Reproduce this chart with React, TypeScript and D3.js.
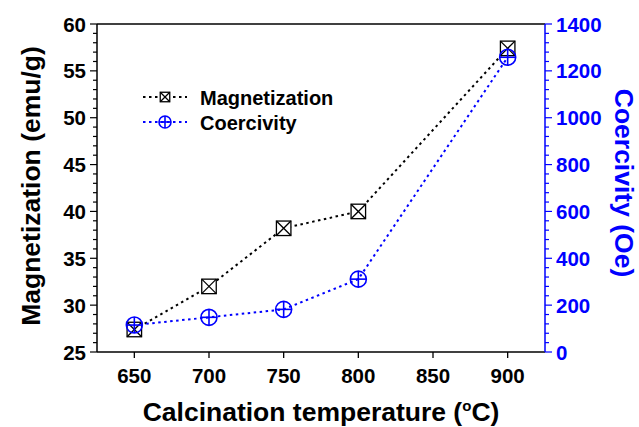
import React from "react";
import * as d3 from "d3";

const temperatures = [650, 700, 750, 800, 900];
const magnetization = [27.4, 32.0, 38.2, 40.0, 57.4];
const coercivity = [115, 148, 182, 311, 1258];
const xTicks = [650, 700, 750, 800, 850, 900];
const leftTicks = [25, 30, 35, 40, 45, 50, 55, 60];
const rightTicks = [0, 200, 400, 600, 800, 1000, 1200, 1400];

const W = 639;
const H = 427;
const M = { left: 97, right: 545, top: 24, bottom: 352 };
const BLUE = "#0000ff";
const FONT = "'Liberation Sans', Arial, sans-serif";
const TICK_FS = 20.5;
const TITLE_FS = 26.5;

export default function App() {
  const x = d3.scaleLinear().domain([625, 925]).range([M.left, M.right]);
  const yL = d3.scaleLinear().domain([25, 60]).range([M.bottom, M.top]);
  const yR = d3.scaleLinear().domain([0, 1400]).range([M.bottom, M.top]);

  const magLine = d3
    .line<number>()
    .x((_, i) => x(temperatures[i]))
    .y((d) => yL(d));
  const coLine = d3
    .line<number>()
    .x((_, i) => x(temperatures[i]))
    .y((d) => yR(d));

  const leftMinor = d3.range(25, 60.01, 1);
  const rightMinor = d3.range(0, 1400.01, 40);

  const square = (cx: number, cy: number, s: number, key?: string | number) => (
    <g key={key} stroke="#000" strokeWidth={1.3} fill="none">
      <rect x={cx - s / 2} y={cy - s / 2} width={s} height={s} fill="#fff" />
      <line x1={cx - s / 2} y1={cy - s / 2} x2={cx + s / 2} y2={cy + s / 2} />
      <line x1={cx + s / 2} y1={cy - s / 2} x2={cx - s / 2} y2={cy + s / 2} />
    </g>
  );
  const circle = (cx: number, cy: number, r: number, key?: string | number) => (
    <g key={key} stroke={BLUE} strokeWidth={1.6} fill="none">
      <circle cx={cx} cy={cy} r={r} />
      <line x1={cx - r} y1={cy} x2={cx + r} y2={cy} />
      <line x1={cx} y1={cy - r} x2={cx} y2={cy + r} />
    </g>
  );

  return (
    <svg
      width={W}
      height={H}
      style={{ position: "absolute", left: 0, top: 0, background: "#fff" }}
      fontFamily={FONT}
    >
      {/* frame */}
      <line x1={M.left} y1={M.top} x2={M.right} y2={M.top} stroke="#000" strokeWidth={1.5} />
      <line x1={M.left} y1={M.bottom} x2={M.right} y2={M.bottom} stroke="#000" strokeWidth={1.5} />
      <line x1={M.left} y1={M.top} x2={M.left} y2={M.bottom} stroke="#000" strokeWidth={1.5} />
      <line x1={M.right} y1={M.top} x2={M.right} y2={M.bottom} stroke={BLUE} strokeWidth={1.5} />

      {/* bottom axis */}
      {xTicks.map((t) => (
        <g key={"xt" + t}>
          <line x1={x(t)} y1={M.bottom} x2={x(t)} y2={M.bottom + 6} stroke="#000" strokeWidth={1.3} />
          <text x={x(t)} y={M.bottom + 31} textAnchor="middle" fontSize={TICK_FS} fontWeight="bold">
            {t}
          </text>
        </g>
      ))}

      {/* left axis */}
      {leftMinor.map((v) => (
        <line
          key={"lm" + v}
          x1={M.left}
          x2={M.left - (v % 5 === 0 ? 7 : 4)}
          y1={yL(v)}
          y2={yL(v)}
          stroke="#000"
          strokeWidth={1.2}
        />
      ))}
      {leftTicks.map((t) => (
        <text key={"lt" + t} x={M.left - 11} y={yL(t) + 7.5} textAnchor="end" fontSize={TICK_FS} fontWeight="bold">
          {t}
        </text>
      ))}

      {/* right axis */}
      {rightMinor.map((v) => (
        <line
          key={"rm" + v}
          x1={M.right}
          x2={M.right + (v % 200 === 0 ? 7 : 4)}
          y1={yR(v)}
          y2={yR(v)}
          stroke={BLUE}
          strokeWidth={1.2}
        />
      ))}
      {rightTicks.map((t) => (
        <text key={"rt" + t} x={M.right + 11} y={yR(t) + 7.5} textAnchor="start" fontSize={TICK_FS} fontWeight="bold" fill={BLUE}>
          {t}
        </text>
      ))}

      {/* series lines */}
      <path d={magLine(magnetization) || ""} fill="none" stroke="#000" strokeWidth={2} strokeDasharray="2.5 3.5" />
      <path d={coLine(coercivity) || ""} fill="none" stroke={BLUE} strokeWidth={2} strokeDasharray="2.5 3.5" />

      {/* markers */}
      {magnetization.map((v, i) => square(x(temperatures[i]), yL(v), 14.5, "sq" + i))}
      {coercivity.map((v, i) => circle(x(temperatures[i]), yR(v), 8, "ci" + i))}

      {/* legend */}
      <line x1={143} x2={187} y1={97} y2={97} stroke="#000" strokeWidth={2} strokeDasharray="2.5 3.5" />
      {square(165, 97, 9.5)}
      <text x={200} y={104.5} fontSize={20} fontWeight="bold">Magnetization</text>
      <line x1={143} x2={187} y1={122} y2={122} stroke={BLUE} strokeWidth={2} strokeDasharray="2.5 3.5" />
      {circle(165, 122, 6)}
      <text x={200} y={129.5} fontSize={20} fontWeight="bold">Coercivity</text>

      {/* axis titles */}
      <text
        x={(M.left + M.right) / 2}
        y={421}
        textAnchor="middle"
        fontSize={TITLE_FS}
        fontWeight="bold"
      >
        Calcination temperature (
        <tspan dy={-10} fontSize={15}>o</tspan>
        <tspan dy={10}>C)</tspan>
      </text>
      <text
        transform={`translate(40, 186) rotate(-90)`}
        textAnchor="middle"
        fontSize={TITLE_FS}
        fontWeight="bold"
      >
        Magnetization (emu/g)
      </text>
      <text
        transform={`translate(615, 183) rotate(90)`}
        textAnchor="middle"
        fontSize={TITLE_FS}
        fontWeight="bold"
        fill={BLUE}
      >
        Coercivity (Oe)
      </text>
    </svg>
  );
}
